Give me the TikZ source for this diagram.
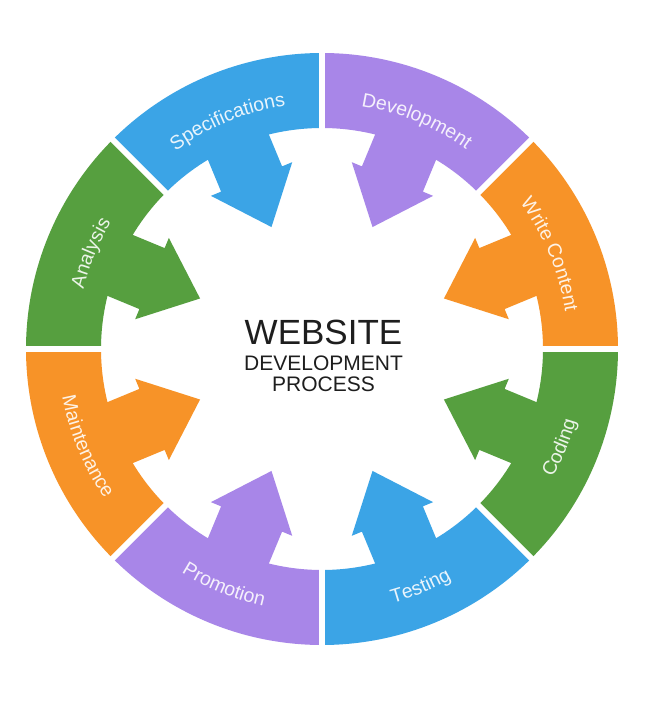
\documentclass[tikz,border=0pt]{standalone}
\usepackage{fontspec}
\setmainfont{Liberation Sans}
\usetikzlibrary{decorations.text}
\definecolor{cblue}{HTML}{3BA4E6}
\definecolor{cpurple}{HTML}{A886E8}
\definecolor{corange}{HTML}{F79328}
\definecolor{cgreen}{HTML}{569F3F}
\definecolor{ctext}{HTML}{1E1E1E}
% band + inward arrow of one segment, centred on angle #1
\newcommand\wdpseg[2]{%
  \fill[#2] (#1-22.5:296) arc[start angle=#1-22.5, end angle=#1+22.5, radius=296]
     -- (#1+22.5:221) arc[start angle=#1+22.5, end angle=#1-22.5, radius=221] -- cycle;
  \begin{scope}[rotate=#1]
    \fill[#2] (228,-33) -- (184,-33) -- (184,-44) -- (132,0) -- (184,44) -- (184,33) -- (228,33) -- cycle;
  \end{scope}}
\newcommand\wdplbl[1]{\fontsize{19.5}{20}\selectfont\color{white!88!#1}}
\tikzset{
  lbl/.style={decorate, decoration={text along path, text align=center, text={#1}}},
  centertext/.style={anchor=base, text=ctext}
}
\begin{document}
\begin{tikzpicture}[x=1pt, y=1pt]
\useasboundingbox (0,0) rectangle (651,705);
\fill[white] (0,0) rectangle (651,705);
\begin{scope}[shift={(322,356)}]
  \coordinate (C) at (0,0);
  \wdpseg{112.5}{cblue}
  \wdpseg{67.5}{cpurple}
  \wdpseg{22.5}{corange}
  \wdpseg{-22.5}{cgreen}
  \wdpseg{-67.5}{cblue}
  \wdpseg{-112.5}{cpurple}
  \wdpseg{-157.5}{corange}
  \wdpseg{157.5}{cgreen}
  \foreach \g in {0,45,...,315} \draw[white, line width=6pt] (\g:212) -- (\g:303);
  % labels, upper half (clockwise paths)
  \path[lbl={|\wdplbl{cblue}|Specifications}] (135:246) arc[start angle=135, end angle=90, radius=246];
  \path[lbl={|\wdplbl{cpurple}|Development}] (90:246) arc[start angle=90, end angle=45, radius=246];
  \path[lbl={|\wdplbl{corange}|Write Content}] (45:246) arc[start angle=45, end angle=0, radius=246];
  \path[lbl={|\wdplbl{cgreen}|Analysis}] (180:246) arc[start angle=180, end angle=135, radius=246];
  % labels, lower half (counter-clockwise paths)
  \path[lbl={|\wdplbl{corange}|Maintenance}] (180:264) arc[start angle=180, end angle=225, radius=264];
  \path[lbl={|\wdplbl{cpurple}|Promotion}] (225:264) arc[start angle=225, end angle=270, radius=264];
  \path[lbl={|\wdplbl{cblue}|Testing}] (270:264) arc[start angle=270, end angle=315, radius=264];
  \path[lbl={|\wdplbl{cgreen}|Coding}] (315:264) arc[start angle=315, end angle=360, radius=264];
  % centre title
  \node[centertext, font=\fontsize{35}{35}\selectfont] (t1) at (1.5,4) {WEBSITE};
  \node[centertext, font=\fontsize{21}{21}\selectfont] (t2) at (1.5,-22) {DEVELOPMENT};
  \node[centertext, font=\fontsize{21}{21}\selectfont] (t3) at (1.5,-43) {PROCESS};
\end{scope}
\end{tikzpicture}
\end{document}
